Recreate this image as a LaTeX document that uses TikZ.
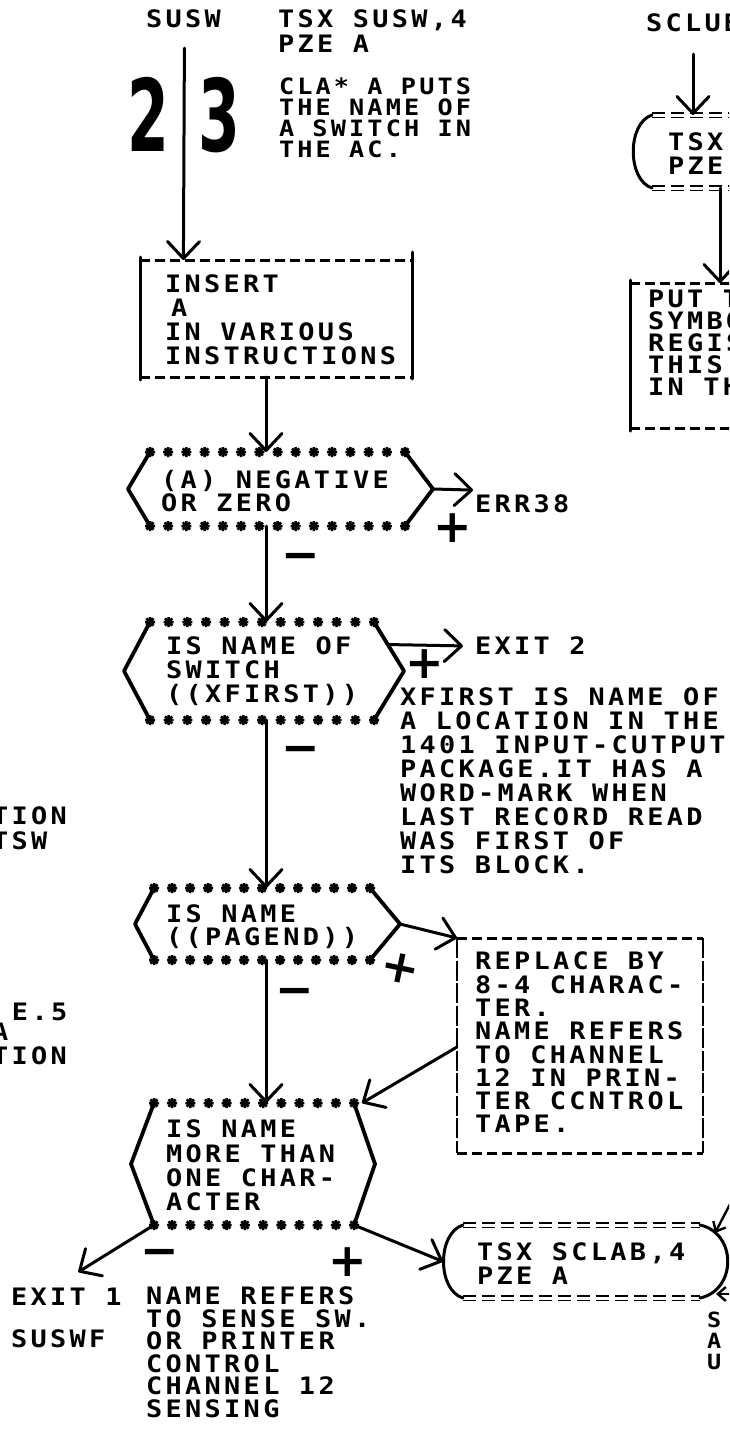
\documentclass[tikz,border=0pt]{standalone}
\usepackage{fontspec}
\usetikzlibrary{arrows.meta,calc}
\newfontfamily\pf[FakeStretch=1.12,LetterSpace=14]{DejaVu Sans Mono Bold}
\newfontfamily\bignum[FakeStretch=0.6]{DejaVu Sans}
\newfontfamily\markf{DejaVu Sans}
\begin{document}
\begin{tikzpicture}[x=1pt,y=-1pt,
  txt/.style={anchor=north west, inner sep=0pt, outer sep=0pt, align=left, font=\pf\fontsize{24}{#1}\selectfont},
  txt/.default=23.5,
  smalltxt/.style={anchor=north west, inner sep=0pt, outer sep=0pt, align=left, font=\pf\fontsize{#1}{21}\selectfont},
  bigt/.style={anchor=north west, inner sep=0pt, font=\bignum\bfseries\fontsize{100}{100}\selectfont},
  sgn/.style={inner sep=0pt, font=\markf\bfseries\fontsize{46}{46}\selectfont},
  frame/.style={inner sep=0pt, outer sep=0pt, draw=none},
  ln/.style={line width=3pt, line cap=round},
  arr/.style={ln, -{Straight Barb[length=17pt,width=32pt,line width=3pt,round]}},
  arrs/.style={line width=2.4pt, -{Straight Barb[length=8pt,width=14pt,line width=2.4pt]}},
  hexside/.style={line width=3.8pt, line join=round, line cap=round},
  dashln/.style={line width=3pt, dash pattern=on 10pt off 5pt},
  sidedash/.style={line width=2.6pt, dash pattern=on 20pt off 2.5pt},
  dbl/.style={double, double distance=3pt, line width=1.8pt, dash pattern=on 13pt off 6pt},
  astx/.pic={\draw[line width=2.5pt] (-5,0)--(5,0) (0,-5)--(0,5) (-3.6,-3.6)--(3.6,3.6) (-3.6,3.6)--(3.6,-3.6);}
]
\fill[white] (0,0) rectangle (729,1432);
\path[use as bounding box] (0,0) rectangle (729,1432);
\clip (0,0) rectangle (729,1432);

\coordinate (spine) at (266,0);
\coordinate (sclx) at (693,0);
\coordinate (putx) at (720,0);

% ---------- top texts ----------
\node[txt] (susw) at (146,10) {SUSW};
\node[txt=25] (tsx1) at (278,10) {TSX SUSW,4\\PZE A};
\node[txt] (sclub) at (646,14) {SCLUB};
\node[smalltxt=22.5] (cla) at (279,78) {CLA* A PUTS\\THE NAME OF\\A SWITCH IN\\THE AC.};
\node[bigt] (n2) at (127,77) {2};
\node[bigt] (n3) at (198,77) {3};

% ---------- INSERT box ----------
\node[frame, minimum width=272pt, minimum height=117pt] (ins) at (276,318.5) {};
\draw[dashln] (ins.north west) -- (ins.north east) (ins.south west) -- (ins.south east);
\draw[ln] ([yshift=3pt]ins.north west) -- ([yshift=-3pt]ins.south west);
\draw[ln] ([yshift=8pt]ins.north east) -- ([yshift=-2pt]ins.south east);
\node[txt=24] (inst) at (165,275) {INSERT\\\hspace*{6pt}A\\IN VARIOUS\\INSTRUCTIONS};

% ---------- hexagons ----------
\node[frame, minimum width=255pt, minimum height=74pt] (h1) at (277.5,489) {};
\draw[hexside] (h1.north west) -- ++(-22,37) coordinate (h1l) -- (h1.south west);
\draw[hexside] (h1.north east) -- ++(28,37) coordinate (h1r) -- (h1.south east);
\node[txt=23] (h1t) at (161,470) {(A) NEGATIVE\\OR ZERO};

\node[frame, minimum width=224pt, minimum height=98pt] (h2) at (262,671) {};
\draw[hexside] (h2.north west) -- ++(-26,49) coordinate (h2l) -- (h2.south west);
\draw[hexside] (h2.north east) -- ++(30,49) coordinate (h2r) -- (h2.south east);
\node[txt=24] (h2t) at (166,637) {IS NAME OF\\SWITCH\\((XFIRST))};

\node[frame, minimum width=216pt, minimum height=72pt] (h3) at (262,924) {};
\draw[hexside] (h3.north west) -- ++(-19,36) coordinate (h3l) -- (h3.south west);
\draw[hexside] (h3.north east) -- ++(30,36) coordinate (h3r) -- (h3.south east);
\node[txt=23] (h3t) at (166,905) {IS NAME\\((PAGEND))};

\node[frame, minimum width=200pt, minimum height=122pt] (h4) at (254,1164) {};
\draw[hexside] (h4.north west) -- ++(-23,61) coordinate (h4l) -- (h4.south west);
\draw[hexside] (h4.north east) -- ++(21,61) coordinate (h4r) -- (h4.south east);
\node[txt=24.3] (h4t) at (166,1120) {IS NAME\\MORE THAN\\ONE CHAR-\\ACTER};

\foreach \n/\k in {h1/14,h2/12,h3/12,h4/11}{
  \foreach \i in {0,...,\k}{
    \pic at ($(\n.north west)!\i/\k!(\n.north east)$) {astx};
    \pic at ($(\n.south west)!\i/\k!(\n.south east)$) {astx};
  }
}

% ---------- side texts ----------
\node[txt] (err) at (475,495) {ERR38};
\node[txt] (exit2) at (475,637) {EXIT 2};
\node[txt=24] (xf) at (400,688) {XFIRST IS NAME OF\\A LOCATION IN THE\\1401 INPUT-CUTPUT\\PACKAGE.IT HAS A\\WORD-MARK WHEN\\LAST RECORD READ\\WAS FIRST OF\\ITS BLOCK.};
\node[txt=25] (lt1) at (-8,807) {TION\\TSW};
\node[txt] (lt2) at (12,1003) {E.5};
\node[txt=24] (lt3) at (-8,1023) {A\\TION};

% ---------- REPLACE box ----------
\node[frame, minimum width=246pt, minimum height=215pt] (rep) at (580,1045.5) {};
\draw[dashln] (rep.north west) -- (rep.north east) (rep.south west) -- (rep.south east);
\draw[sidedash] (rep.north west) -- (rep.south west) (rep.north east) -- (rep.south east);
\node[txt=23.3] (rept) at (475,952) {REPLACE BY\\8-4 CHARAC-\\TER.\\NAME REFERS\\TO CHANNEL\\12 IN PRIN-\\TER CCNTROL\\TAPE.};

% ---------- bottom texts ----------
\node[txt] (exit1) at (11,1288) {EXIT 1};
\node[txt] (suswf) at (11,1330) {SUSWF};
\node[txt=22.5] (nr) at (146,1287) {NAME REFERS\\TO SENSE SW.\\OR PRINTER\\CONTROL\\CHANNEL 12\\SENSING};

% ---------- SCLAB box ----------
\node[frame, minimum width=237pt, minimum height=73pt] (sclab) at (581.5,1261.5) {};
\draw[dbl] (sclab.north west) -- (sclab.north east) (sclab.south west) -- (sclab.south east);
\draw[ln] (sclab.north west) .. controls +(-26,8) and +(-26,-8) .. (sclab.south west);
\draw[ln] (sclab.north east) .. controls +(37,8) and +(37,-8) .. (sclab.south east);
\node[txt=24] (sclabt) at (477,1243) {TSX SCLAB,4\\PZE A};
\node[smalltxt=21] (sau) at (707,1312) {S\\A\\U};
\coordinate (edge1) at (740,1185);
\coordinate (edge2) at (740,1294);

% ---------- right top boxes ----------
\node[frame, minimum width=120pt, minimum height=73pt] (tsx2) at (712,151.5) {};
\draw[dbl] (tsx2.north west) -- (tsx2.north east) (tsx2.south west) -- (tsx2.south east);
\draw[ln] (tsx2.north west) .. controls +(-25,8) and +(-25,-8) .. (tsx2.south west);
\node[txt=24] (tsx2t) at (668,133) {TSX\\PZE};

\node[frame, minimum width=130pt, minimum height=145pt] (put) at (695,355.5) {};
\draw[dashln] (put.north west) -- (put.north east) (put.south west) -- (put.south east);
\draw[ln] ([yshift=3pt]put.north west) -- ([yshift=-3pt]put.south west);
\node[txt=22] (putt) at (648,290) {PUT THE\\SYMBOL\\REGISTER\\THIS\\IN THE};

% ---------- connectors ----------
\draw[arr] (susw.south) ++(1,20) -- (susw.south |- ins.north);
\draw[arr] (ins.south -| spine) -- (h1.north -| spine);
\draw[arr] (h1.south -| spine) -- (h2.north -| spine);
\draw[arr] (h2.south -| spine) -- (h3.north -| spine);
\draw[arr] (h3.south -| spine) -- (h4.north -| spine);
\draw[arr] (h1r) -- ($(err.west)+(-2,-14)$);
\draw[arr] ($(h2.north east)!0.46!(h2r)$) -- ($(exit2.west)+(-12,0)$);
\draw[arr] (h3r) -- (rep.north west);
\draw[arr] ($(rep.west)+(0,1.5)$) -- ($(h4.north east)+(8,0)$);
\draw[arr] (h4.south west) -- ($(exit1.north)+(12,-16)$);
\draw[arr] (h4.south east) -- ($(sclab.west)+(-20,0)$);
\draw[arr] (sclx |- sclub.south) ++(0,22) -- (sclx |- tsx2.north);
\draw[arr] (putx |- tsx2.south) -- (putx |- put.north);
\draw[arrs] (edge1) -- ($(sclab.north east)+(15,8)$);
\draw[arrs] (edge2) -- ($(sclab.south east)+(16,-4)$);

% ---------- signs ----------
\node[sgn] (p1) at (453,528) {+};
\node[sgn] (p2) at (425,664) {+};
\node[sgn, rotate=-12] (p3) at (400,968) {+};
\node[sgn] (p4) at (348,1262) {+};
\node[sgn] (m1) at (301,562) {−};
\node[sgn] (m2) at (301,755) {−};
\node[sgn] (m3) at (295,997) {−};
\node[sgn] (m4) at (160,1258) {−};
\end{tikzpicture}
\end{document}
